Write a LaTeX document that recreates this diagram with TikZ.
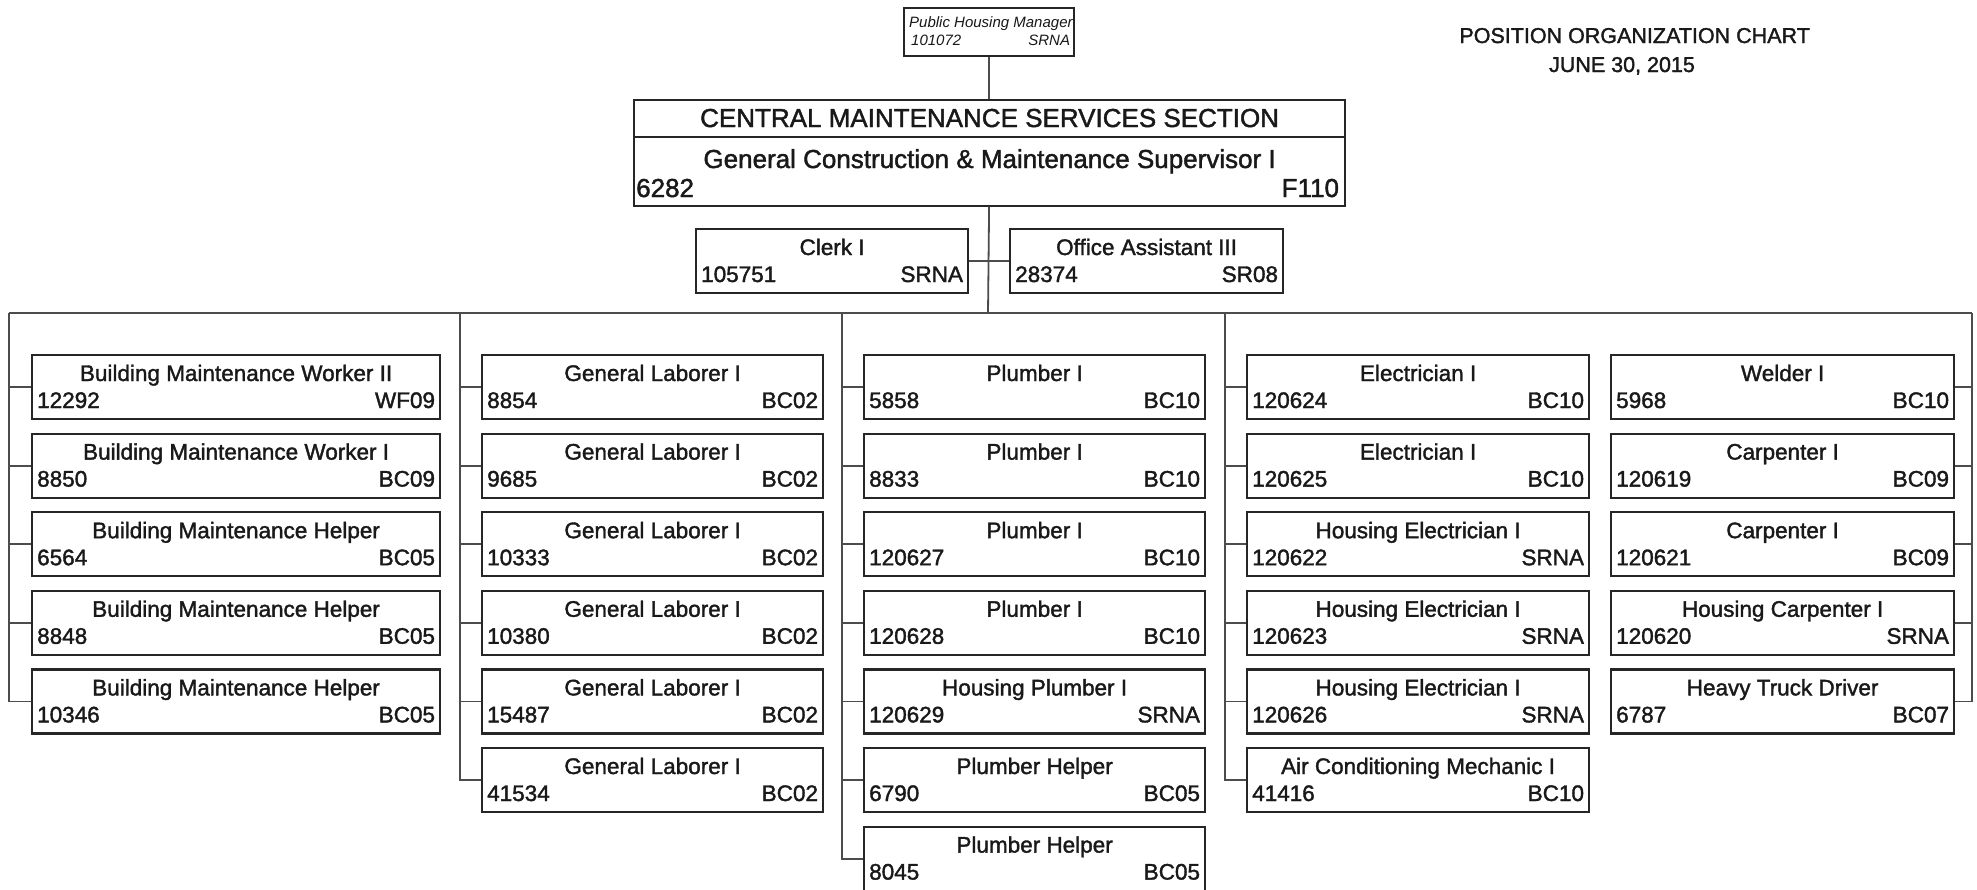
\documentclass[tikz,border=0pt]{standalone}
\usepackage{fontspec}
\setmainfont{Liberation Sans}
\newfontfamily\scanfont[FakeBold=1.6]{Liberation Sans}
\usetikzlibrary{calc}
\tikzset{
  x=1pt, y=-1pt,
  posbox/.style={draw=black!85, line width=2.2pt, fill=white, rectangle, inner sep=0pt, minimum height=64pt, anchor=north west},
  link/.style={draw=black!70, line width=1.8pt},
  lbl/.style={inner sep=0pt, text=black!90, font=\scanfont\fontsize{22.5}{26}\selectfont},
  biglbl/.style={inner sep=0pt, text=black!90, font=\scanfont\fontsize{26}{30}\selectfont},
  smalllbl/.style={inner sep=0pt, text=black!90, font=\fontsize{15}{18}\selectfont\itshape},
  titlelbl/.style={inner sep=0pt, text=black!90, font=\scanfont\fontsize{21.5}{26}\selectfont},
}
\newcommand{\posn}[7]{%
  \node[posbox, minimum width=#4pt] (#1) at (#2,#3) {};
  \node[lbl, anchor=base] (#1-t) at ($(#1.north)+(0,27)$) {#5};
  \node[lbl, anchor=base west] (#1-n) at ($(#1.north west)+(6,54)$) {#6};
  \node[lbl, anchor=base east] (#1-c) at ($(#1.north east)+(-6,54)$) {#7};
}
\begin{document}
\begin{tikzpicture}
\useasboundingbox[fill=white] (0,0) rectangle (1977,889);

% title
\node[titlelbl, anchor=base east] (ttl1) at (1810,43) {POSITION ORGANIZATION CHART};
\node[titlelbl, anchor=base] (ttl2) at (1622,72) {JUNE 30, 2015};

% Public Housing Manager
\node[posbox, minimum width=170pt, minimum height=48pt] (phm) at (903,7) {};
\node[smalllbl, anchor=base west] (phm-t) at ($(phm.north west)+(6,20)$) {Public Housing Manager};
\node[smalllbl, anchor=base west] (phm-n) at ($(phm.north west)+(8,38)$) {101072};
\node[smalllbl, anchor=base east] (phm-c) at ($(phm.north east)+(-5,38)$) {SRNA};

% Central section
\node[posbox, minimum width=711pt, minimum height=106pt] (csec) at (633,98.5) {};
\draw[draw=black!85, line width=2.2pt] ($(csec.north west)+(0,38.5)$) coordinate (dvl) -- ($(csec.north east)+(0,38.5)$) coordinate (dvr);
\node[biglbl, anchor=base] (csec-h) at ($(csec.north)+(0,28.5)$) {CENTRAL MAINTENANCE SERVICES SECTION};
\node[biglbl, anchor=base] (csec-t) at ($(csec.north)+(0,69.5)$) {General Construction \& Maintenance Supervisor I};
\node[biglbl, anchor=base west] (csec-n) at ($(csec.north west)+(3,98.5)$) {6282};
\node[biglbl, anchor=base east] (csec-c) at ($(csec.north east)+(-7,98.5)$) {F110};

% staff
\posn{clerk}{695}{228}{272}{Clerk I}{105751}{SRNA}
\posn{office}{1009}{228}{273}{Office Assistant III}{28374}{SR08}

% column 1
\posn{a1}{31}{354}{408}{Building Maintenance Worker II}{12292}{WF09}
\posn{a2}{31}{432.6}{408}{Building Maintenance Worker I}{8850}{BC09}
\posn{a3}{31}{511.2}{408}{Building Maintenance Helper}{6564}{BC05}
\posn{a4}{31}{589.8}{408}{Building Maintenance Helper}{8848}{BC05}
\posn{a5}{31}{668.4}{408}{Building Maintenance Helper}{10346}{BC05}

% column 2
\posn{b1}{481}{354}{341}{General Laborer I}{8854}{BC02}
\posn{b2}{481}{432.6}{341}{General Laborer I}{9685}{BC02}
\posn{b3}{481}{511.2}{341}{General Laborer I}{10333}{BC02}
\posn{b4}{481}{589.8}{341}{General Laborer I}{10380}{BC02}
\posn{b5}{481}{668.4}{341}{General Laborer I}{15487}{BC02}
\posn{b6}{481}{747}{341}{General Laborer I}{41534}{BC02}

% column 3
\posn{c1}{863}{354}{341}{Plumber I}{5858}{BC10}
\posn{c2}{863}{432.6}{341}{Plumber I}{8833}{BC10}
\posn{c3}{863}{511.2}{341}{Plumber I}{120627}{BC10}
\posn{c4}{863}{589.8}{341}{Plumber I}{120628}{BC10}
\posn{c5}{863}{668.4}{341}{Housing Plumber I}{120629}{SRNA}
\posn{c6}{863}{747}{341}{Plumber Helper}{6790}{BC05}
\posn{c7}{863}{825.6}{341}{Plumber Helper}{8045}{BC05}

% column 4
\posn{d1}{1246}{354}{342}{Electrician I}{120624}{BC10}
\posn{d2}{1246}{432.6}{342}{Electrician I}{120625}{BC10}
\posn{d3}{1246}{511.2}{342}{Housing Electrician I}{120622}{SRNA}
\posn{d4}{1246}{589.8}{342}{Housing Electrician I}{120623}{SRNA}
\posn{d5}{1246}{668.4}{342}{Housing Electrician I}{120626}{SRNA}
\posn{d6}{1246}{747}{342}{Air Conditioning Mechanic I}{41416}{BC10}

% column 5
\posn{e1}{1610}{354}{343}{Welder I}{5968}{BC10}
\posn{e2}{1610}{432.6}{343}{Carpenter I}{120619}{BC09}
\posn{e3}{1610}{511.2}{343}{Carpenter I}{120621}{BC09}
\posn{e4}{1610}{589.8}{343}{Housing Carpenter I}{120620}{SRNA}
\posn{e5}{1610}{668.4}{343}{Heavy Truck Driver}{6787}{BC07}

% connector frame
\coordinate (t1) at (9,313);
\coordinate (t2) at (460,313);
\coordinate (t3) at (842,313);
\coordinate (hub) at (988,313);
\coordinate (t4) at (1225,313);
\coordinate (t5) at (1972,313);

\draw[link] (phm.south) -- (phm.south |- csec.north);
\draw[link] (phm.south |- csec.south) -- (hub);
\draw[link] (clerk.east) -- (office.west);
\draw[link] (t1) -- (t5);
\draw[link] (a5.west) -| (t1);
\draw[link] (b6.west) -| (t2);
\draw[link] (c7.west) -| (t3);
\draw[link] (d6.west) -| (t4);
\draw[link] (e5.east) -| (t5);
\foreach \b in {a1,a2,a3,a4} \draw[link] (\b.west) -- (\b.west -| t1);
\foreach \b in {b1,b2,b3,b4,b5} \draw[link] (\b.west) -- (\b.west -| t2);
\foreach \b in {c1,c2,c3,c4,c5,c6} \draw[link] (\b.west) -- (\b.west -| t3);
\foreach \b in {d1,d2,d3,d4,d5} \draw[link] (\b.west) -- (\b.west -| t4);
\foreach \b in {e1,e2,e3,e4} \draw[link] (\b.east) -- (\b.east -| t5);
\end{tikzpicture}
\end{document}
